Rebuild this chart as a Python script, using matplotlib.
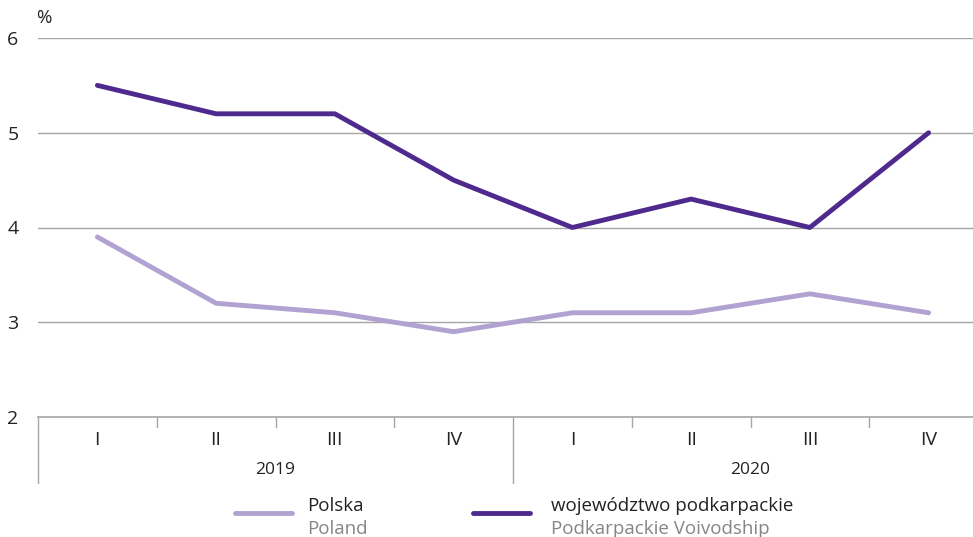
import numpy as np
import matplotlib.pyplot as plt
from matplotlib.lines import Line2D

plt.rcParams['font.family'] = ['Open Sans', 'DejaVu Sans']

quarters = ["I", "II", "III", "IV", "I", "II", "III", "IV"]
years = ["2019", "2020"]
polska = [3.9, 3.2, 3.1, 2.9, 3.1, 3.1, 3.3, 3.1]
podkarpackie = [5.5, 5.2, 5.2, 4.5, 4.0, 4.3, 4.0, 5.0]

c_light = "#b1a2d2"
c_dark = "#4e2a8e"
c_grid = "#a6a6a6"
c_text = "#222222"

fig = plt.figure(figsize=(9.73, 5.37), dpi=100)
# plot area runs a little past the right edge of the figure
ax = fig.add_axes([38/973, 1 - 417/537, 950/973, 379/537])

x = np.arange(len(quarters))
ax.plot(x, polska, color=c_light, lw=3.5, solid_capstyle="round", zorder=3)
ax.plot(x, podkarpackie, color=c_dark, lw=3.5, solid_capstyle="round", zorder=4)

ax.set_xlim(-0.5, len(quarters) - 0.5)
ax.set_ylim(2, 6)
ax.set_yticks([2, 3, 4, 5, 6])
for yv in [3, 4, 5, 6]:
    ax.axhline(yv, color=c_grid, lw=1, zorder=1)
for s in ["left", "right", "top"]:
    ax.spines[s].set_visible(False)
ax.spines["bottom"].set_color(c_grid)
ax.spines["bottom"].set_linewidth(1.2)

ax.tick_params(axis="y", length=0, pad=14, labelsize=14, labelcolor=c_text)
ax.set_xticks(x)
ax.set_xticklabels(quarters)
ax.tick_params(axis="x", length=0, pad=10, labelsize=14, labelcolor=c_text)

# category separators
trans = ax.get_xaxis_transform()
for i in range(len(quarters)):
    xb = i - 0.5
    if i % 4 == 0:
        ax.plot([xb, xb], [0, -0.174], color=c_grid, lw=1, transform=trans, clip_on=False)
    else:
        ax.plot([xb, xb], [0, -0.026], color=c_grid, lw=1, transform=trans, clip_on=False)

for j, yr in enumerate(years):
    ax.text(1.5 + 4 * j, -0.14, yr, transform=trans, ha="center", va="center",
            fontsize=12.5, color=c_text)

fig.text(36/973, 1 - 18/537, "%", ha="left", va="center", fontsize=13.5, color=c_text)

# legend
items = [(235, 307, c_light, "Polska", "Poland"),
         (473, 551, c_dark, "województwo podkarpackie", "Podkarpackie Voivodship")]
for x0, xt, col, pl, en in items:
    fig.add_artist(Line2D([x0/973, (x0 + 57)/973], [1 - 513/537] * 2, color=col, lw=3.5,
                          solid_capstyle="round", transform=fig.transFigure))
    fig.text(xt/973, 1 - 506/537, pl, ha="left", va="center", fontsize=13.5, color=c_text)
    fig.text(xt/973, 1 - 529/537, en, ha="left", va="center", fontsize=13.5, color="#858585")

fig.savefig("out.png", dpi=100)
